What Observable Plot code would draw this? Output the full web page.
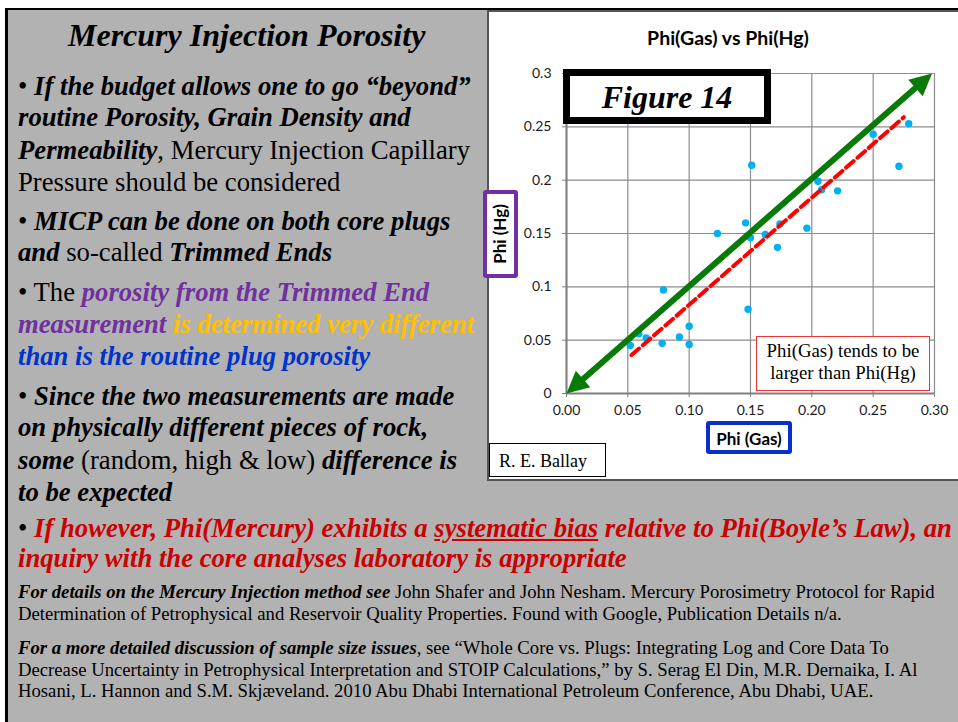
<!DOCTYPE html>
<html><head><meta charset="utf-8">
<script src="https://cdn.jsdelivr.net/npm/d3@7"></script>
<script src="https://cdn.jsdelivr.net/npm/@observablehq/plot@0.6"></script>
<style>
html,body{margin:0;padding:0;}
body{width:958px;height:722px;position:relative;overflow:hidden;background:#fff;font-family:"Liberation Serif","Times New Roman",serif;}
#slide{position:absolute;left:5px;top:8px;width:960px;height:720px;background:#B2B2B2;border-left:3px solid #000;border-top:2px solid #000;box-sizing:border-box;}
.ln{position:absolute;white-space:nowrap;line-height:1;color:#000;}
.bi{font-weight:bold;font-style:italic;}
.pu{color:#7030A0;} .go{color:#FFC000;} .bl{color:#0033CC;} .rd{color:#CC0000;}
.b{font-size:26.7px;left:18px;}
.s{font-size:18.7px;left:18px;}
#panel{position:absolute;left:487px;top:10px;width:475px;height:471px;border:2px solid #555;border-right:none;background:#fff;box-sizing:border-box;}
#chart{position:absolute;left:489px;top:12px;}
.ov{position:absolute;box-sizing:border-box;background:#fff;}
</style></head>
<body>
<div id="slide"></div>
<div class="ln bi" data-b="46" style="font-size:32px;left:68px;">Mercury Injection Porosity</div>
<div class="ln b" data-b="95">• <span class="bi">If the budget allows one to go “beyond”</span></div>
<div class="ln b bi" data-b="126">routine Porosity, Grain Density and</div>
<div class="ln b" data-b="159"><span class="bi">Permeability</span>, Mercury Injection Capillary</div>
<div class="ln b" data-b="191">Pressure should be considered</div>
<div class="ln b" data-b="230">• <span class="bi">MICP can be done on both core plugs</span></div>
<div class="ln b" data-b="261"><span class="bi">and</span> so-called <span class="bi">Trimmed Ends</span></div>
<div class="ln b" data-b="301">• The <span class="bi pu">porosity from the Trimmed End</span></div>
<div class="ln b" data-b="333"><span class="bi pu">measurement</span><span class="bi go"> is determined very different</span></div>
<div class="ln b bi bl" data-b="365">than is the routine plug porosity</div>
<div class="ln b" data-b="405">• <span class="bi">Since the two measurements are made</span></div>
<div class="ln b bi" data-b="436">on physically different pieces of rock,</div>
<div class="ln b" data-b="469"><span class="bi">some</span> (random, high &amp; low) <span class="bi">difference is</span></div>
<div class="ln b bi" data-b="501">to be expected</div>
<div class="ln b" data-b="537">• <span class="bi rd">If however, Phi(Mercury) exhibits a <u>systematic bias</u> relative to Phi(Boyle’s Law), an</span></div>
<div class="ln b bi rd" data-b="567">inquiry with the core analyses laboratory is appropriate</div>
<div class="ln s" data-b="599"><span class="bi">For details on the Mercury Injection method see</span> John Shafer and John Nesham. Mercury Porosimetry Protocol for Rapid</div>
<div class="ln s" data-b="621">Determination of Petrophysical and Reservoir Quality Properties. Found with Google, Publication Details n/a.</div>
<div class="ln s" data-b="655"><span class="bi">For a more detailed discussion of sample size issues</span>, see “Whole Core vs. Plugs: Integrating Log and Core Data To</div>
<div class="ln s" data-b="677">Decrease Uncertainty in Petrophysical Interpretation and STOIP Calculations,” by S. Serag El Din, M.R. Dernaika, I. Al</div>
<div class="ln s" data-b="698">Hosani, L. Hannon and S.M. Skjæveland. 2010 Abu Dhabi International Petroleum Conference, Abu Dhabi, UAE.</div>

<div id="panel"></div>
<div id="chart"></div>

<div class="ln" data-b="44" style="font-family:Lato,sans-serif;font-weight:bold;font-size:19.5px;left:618px;width:220px;text-align:center;">Phi(Gas) vs Phi(Hg)</div>
<div class="ov" style="left:563px;top:69px;width:208px;height:55px;border:7px solid #000;"></div>
<div class="ln bi" data-b="108" style="font-size:32px;left:567px;width:200px;text-align:center;">Figure 14</div>
<div class="ov" style="left:756px;top:336px;width:174px;height:55px;border:1.5px solid #F03434;"></div>
<div class="ln" data-b="358" style="font-size:18.8px;left:756px;width:174px;text-align:center;">Phi(Gas) tends to be</div>
<div class="ln" data-b="380" style="font-size:18.8px;left:756px;width:174px;text-align:center;">larger than Phi(Hg)</div>
<div class="ov" style="left:483px;top:190px;width:35px;height:88px;border:4px solid #7030A0;border-radius:3px;"></div>
<div class="ln" style="font-family:Lato,sans-serif;font-weight:bold;font-size:17px;left:460px;top:225px;width:80px;text-align:center;transform:rotate(-90deg);line-height:18px;">Phi (Hg)</div>
<div class="ov" style="left:706px;top:421px;width:86px;height:33px;border:4px solid #0A2ECC;border-radius:3px;"></div>
<div class="ln" data-b="444" style="font-family:Lato,sans-serif;font-weight:bold;font-size:17px;left:706px;width:86px;text-align:center;">Phi (Gas)</div>
<div class="ov" style="left:489px;top:443px;width:117px;height:34px;border:1.5px solid #000;"></div>
<div class="ln" data-b="467" style="font-size:18px;left:499px;">R. E. Ballay</div>

<script>
// ---- data ----
const phiGas = [0.052,0.059,0.065,0.078,0.079,0.092,0.100,0.100,0.123,0.146,0.148,0.150,0.151,0.162,0.172,0.174,0.196,0.205,0.208,0.221,0.250,0.271,0.279];
const phiHg  = [0.045,0.056,0.052,0.047,0.097,0.053,0.063,0.046,0.150,0.160,0.079,0.146,0.214,0.149,0.137,0.159,0.155,0.199,0.191,0.190,0.243,0.213,0.253];
const xTicks = [0, 0.05, 0.1, 0.15, 0.2, 0.25, 0.3];
const xTickLabels = ["0.00","0.05","0.10","0.15","0.20","0.25","0.30"];
const yTicks = [0, 0.05, 0.1, 0.15, 0.2, 0.25, 0.3];
const yTickLabels = ["0","0.05","0.1","0.15","0.2","0.25","0.3"];
const oneToOneX = [0, 0.298];   // green 1:1 double arrow
const oneToOneY = [0, 0.300];
const fitX = [0.053, 0.275];    // red dashed trend
const fitY = [0.036, 0.259];

// ---- layout ----
const W = 469, H = 467, mL = 77, mR = 24, mT = 61, mB = 86;

const points = phiGas.map((x, i) => ({x, y: phiHg[i]}));
const oneToOne = [{x1: oneToOneX[0], y1: oneToOneY[0], x2: oneToOneX[1], y2: oneToOneY[1]}];
const fit = fitX.map((x, i) => ({x, y: fitY[i]}));

const kx = (W - mL - mR) / 0.3, ky = (H - mT - mB) / 0.3;
const ang = Math.atan2((oneToOneX[1] - oneToOneX[0]) * kx, (oneToOneY[1] - oneToOneY[0]) * ky) * 180 / Math.PI;
const heads = [
  {x: oneToOneX[1], y: oneToOneY[1], r: ang},
  {x: oneToOneX[0], y: oneToOneY[0], r: ang + 180}
];
const tri = {draw(ctx, l) { const w = l * 0.5; ctx.moveTo(0, -l); ctx.lineTo(w, 0); ctx.lineTo(-w, 0); ctx.closePath(); }};

const green = "#087A08";
const chart = Plot.plot({
  width: W, height: H,
  marginLeft: mL, marginRight: mR, marginTop: mT, marginBottom: mB,
  style: {fontFamily: "Lato, sans-serif", fontSize: "14px", color: "#1a1a1a", background: "transparent", overflow: "visible"},
  x: {domain: [0, 0.3]},
  y: {domain: [0, 0.3]},
  marks: [
    Plot.gridX(xTicks, {stroke: "#8c8c8c", strokeOpacity: 1, strokeWidth: 1.2}),
    Plot.gridY(yTicks, {stroke: "#8c8c8c", strokeOpacity: 1, strokeWidth: 1.2}),
    Plot.axisX(xTicks, {tickFormat: d => xTickLabels[xTicks.indexOf(d)], tickSize: 4, tickPadding: 8, stroke: "#7f7f7f", label: null, fontSize: 14}),
    Plot.axisY(yTicks, {tickFormat: d => yTickLabels[yTicks.indexOf(d)], tickSize: 4, tickPadding: 11, stroke: "#7f7f7f", label: null, fontSize: 14}),
    Plot.ruleX([0], {stroke: "#7f7f7f", strokeWidth: 2}),
    Plot.ruleY([0], {stroke: "#7f7f7f", strokeWidth: 2}),
    Plot.dot(points, {x: "x", y: "y", r: 3.7, fill: "#00B0F0", stroke: "none"}),
    Plot.line(fit, {x: "x", y: "y", stroke: "#FF0000", strokeWidth: 4, strokeDasharray: "10,5"}),
    Plot.arrow(oneToOne, {x1: "x1", y1: "y1", x2: "x2", y2: "y2", stroke: green, strokeWidth: 6, headLength: 0, insetStart: 10, insetEnd: 10}),
    Plot.vector(heads, {x: "x", y: "y", rotate: "r", length: 22, anchor: "end", shape: tri, fill: green, stroke: "none"})
  ]
});
document.getElementById("chart").appendChild(chart);

// place text lines by baseline
document.querySelectorAll(".ln[data-b]").forEach(el => {
  const fs = parseFloat(getComputedStyle(el).fontSize);
  const isSans = /Lato/.test(el.style.fontFamily);
  const k = isSans ? 0.80 : 0.8375;
  el.style.top = (parseFloat(el.dataset.b) - k * fs) + "px";
});
</script>
</body></html>
